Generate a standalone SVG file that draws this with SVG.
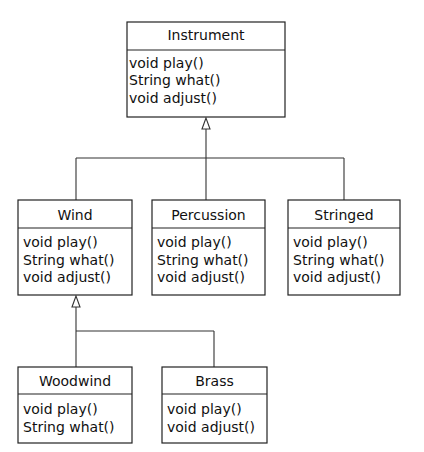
<svg xmlns="http://www.w3.org/2000/svg" width="424" height="452" viewBox="0 0 424 452">
<style>
.box{fill:#fff;stroke:#222;stroke-width:1.2}
.div{stroke:#222;stroke-width:1.2}
.t{font-family:"DejaVu Sans",Verdana,sans-serif;font-size:14px;fill:#111}
.h{text-anchor:middle}
.c{fill:none;stroke:#333;stroke-width:1.1}
.tri{fill:#fff;stroke:#333;stroke-width:1.1}
</style>
<rect width="424" height="452" fill="#fff"/>
<g id="connectors">
<path class="c" d="M206 129V158M76 158H344M76 158V200M206 158V200M344 158V200"/>
<polygon class="tri" points="206,118 202,129 210,129"/>
<path class="c" d="M76 307V331M76 331H214M76 331V367M214 331V367"/>
<polygon class="tri" points="76,296 72,307 80,307"/>
</g>
<g id="Instrument">
<rect class="box" x="127" y="22" width="158" height="95"/>
<line class="div" x1="127" y1="50" x2="285" y2="50"/>
<text class="t h" x="206" y="40">Instrument</text>
<text class="t" x="129" y="67.5">void play()</text>
<text class="t" x="129" y="85">String what()</text>
<text class="t" x="129" y="102.5">void adjust()</text>
</g>
<g id="Wind">
<rect class="box" x="18" y="200" width="114" height="95"/>
<line class="div" x1="18" y1="228" x2="132" y2="228"/>
<text class="t h" x="75" y="219.5">Wind</text>
<text class="t" x="23" y="247">void play()</text>
<text class="t" x="23" y="264.5">String what()</text>
<text class="t" x="23" y="282">void adjust()</text>
</g>
<g id="Percussion">
<rect class="box" x="152" y="200" width="113" height="95"/>
<line class="div" x1="152" y1="228" x2="265" y2="228"/>
<text class="t h" x="208.5" y="219.5">Percussion</text>
<text class="t" x="157" y="247">void play()</text>
<text class="t" x="157" y="264.5">String what()</text>
<text class="t" x="157" y="282">void adjust()</text>
</g>
<g id="Stringed">
<rect class="box" x="288" y="200" width="112" height="95"/>
<line class="div" x1="288" y1="228" x2="400" y2="228"/>
<text class="t h" x="344" y="219.5">Stringed</text>
<text class="t" x="293" y="247">void play()</text>
<text class="t" x="293" y="264.5">String what()</text>
<text class="t" x="293" y="282">void adjust()</text>
</g>
<g id="Woodwind">
<rect class="box" x="18" y="367" width="114" height="76"/>
<line class="div" x1="18" y1="394" x2="132" y2="394"/>
<text class="t h" x="75" y="386">Woodwind</text>
<text class="t" x="23" y="414">void play()</text>
<text class="t" x="23" y="431.5">String what()</text>
</g>
<g id="Brass">
<rect class="box" x="162" y="367" width="105" height="76"/>
<line class="div" x1="162" y1="394" x2="267" y2="394"/>
<text class="t h" x="214.5" y="386">Brass</text>
<text class="t" x="167" y="414">void play()</text>
<text class="t" x="167" y="431.5">void adjust()</text>
</g>
</svg>
